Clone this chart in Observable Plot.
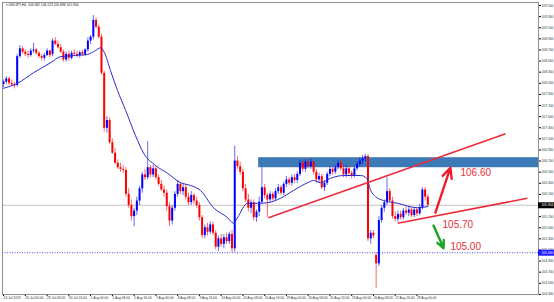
<!DOCTYPE html>
<html><head><meta charset="utf-8">
<script src="https://cdn.jsdelivr.net/npm/d3@7"></script>
<script src="https://cdn.jsdelivr.net/npm/@observablehq/plot@0.6"></script>
<style>html,body{margin:0;padding:0;background:#fff;} #chart svg{display:block;}</style>
</head><body><div id="chart"></div>
<script>
// ---- data ----
const opens = [108.08,108.12,108.18,108.10,108.07,108.06,108.58,108.72,108.66,108.62,108.60,108.68,108.70,108.64,108.58,108.55,108.60,108.68,108.62,108.86,108.80,108.74,108.66,108.52,108.62,108.55,108.64,108.62,108.60,108.65,108.62,108.70,108.86,108.93,109.23,109.11,108.93,108.28,107.29,107.43,107.03,106.84,106.66,106.58,106.55,106.53,106.10,105.90,105.70,105.80,105.98,106.20,106.45,106.40,106.58,106.45,106.56,106.40,106.28,106.18,106.12,105.88,105.62,105.85,106.10,106.28,106.15,106.22,106.05,105.95,106.08,105.98,105.90,105.68,105.36,105.50,105.42,105.55,105.40,105.15,105.30,105.20,105.32,105.25,105.38,105.12,106.70,106.60,106.50,106.20,106.00,105.85,105.95,105.68,105.78,105.96,106.22,106.08,106.00,106.10,106.02,106.15,106.22,106.12,106.28,106.36,106.30,106.40,106.35,106.46,106.66,106.55,106.68,106.60,106.68,106.50,106.36,106.42,106.22,106.30,106.46,106.55,106.50,106.58,106.66,106.56,106.45,106.56,106.48,106.44,106.56,106.64,106.70,106.74,106.78,105.30,105.40,105.00,104.85,105.63,105.85,105.95,106.15,105.98,105.70,105.65,105.74,105.68,105.80,105.76,105.82,105.72,105.82,105.75,105.86,106.18,106.05];
const highs = [108.16,108.22,108.21,108.16,108.12,108.62,108.78,108.76,108.70,108.68,108.72,108.82,108.73,108.67,108.62,108.64,108.72,108.70,108.90,108.92,108.86,108.80,108.70,108.66,108.68,108.68,108.70,108.68,108.68,108.70,108.72,108.92,108.96,109.32,109.28,109.15,108.98,108.32,107.50,107.48,107.10,106.92,106.72,106.66,106.62,106.58,106.20,106.00,105.85,106.05,106.25,106.50,106.55,107.05,106.62,106.62,106.60,106.45,106.35,106.25,106.18,105.95,105.90,106.15,106.35,106.32,106.30,106.28,106.12,106.15,106.12,106.05,105.95,105.72,105.55,105.58,105.60,105.60,105.45,105.35,105.38,105.38,105.40,105.42,105.45,106.97,106.78,106.68,106.55,106.28,106.10,106.00,106.00,105.82,106.05,106.58,106.28,106.12,106.15,106.14,106.20,106.28,106.26,106.32,106.42,106.40,106.45,106.46,106.50,106.72,106.72,106.72,106.74,106.74,106.70,106.55,106.48,106.46,106.35,106.50,106.60,106.60,106.62,106.70,106.72,106.62,106.62,106.60,106.52,106.60,106.68,106.76,106.80,106.82,106.82,105.45,105.45,105.05,105.70,105.90,106.00,106.40,106.20,106.05,105.78,105.80,105.80,105.85,105.88,105.88,105.86,105.86,105.85,105.92,106.22,106.22,106.10];
const lows = [108.02,108.08,108.06,108.04,108.00,108.03,108.55,108.62,108.58,108.55,108.57,108.64,108.60,108.55,108.50,108.50,108.58,108.56,108.58,108.78,108.72,108.64,108.48,108.48,108.50,108.52,108.58,108.56,108.55,108.58,108.58,108.66,108.80,108.88,109.08,108.90,108.25,107.22,107.20,107.00,106.82,106.64,106.55,106.50,106.48,106.05,105.85,105.62,105.52,105.72,105.90,106.12,106.35,106.36,106.40,106.40,106.36,106.25,106.15,106.05,105.80,105.52,105.55,105.80,106.05,106.10,106.08,106.00,105.90,105.90,105.92,105.85,105.62,105.30,105.30,105.35,105.38,105.36,105.10,105.07,105.15,105.12,105.20,105.20,105.05,105.06,106.55,106.45,106.15,105.95,105.78,105.75,105.62,105.60,105.70,105.92,106.02,105.68,105.95,105.98,105.98,106.10,106.08,106.08,106.22,106.25,106.25,106.30,106.30,106.42,106.50,106.50,106.56,106.55,106.45,106.30,106.30,106.18,106.15,106.26,106.42,106.44,106.46,106.54,106.52,106.40,106.40,106.42,106.38,106.40,106.52,106.60,106.64,106.68,105.25,105.20,105.30,104.41,104.80,105.58,105.78,105.90,105.96,105.65,105.60,105.60,105.64,105.64,105.72,105.70,105.68,105.68,105.70,105.72,105.82,105.98,105.88];
const closes = [108.12,108.18,108.10,108.07,108.05,108.58,108.72,108.66,108.62,108.60,108.68,108.70,108.64,108.58,108.55,108.60,108.68,108.60,108.86,108.80,108.74,108.66,108.52,108.62,108.55,108.64,108.62,108.60,108.65,108.62,108.70,108.86,108.93,109.23,109.11,108.93,108.28,107.29,107.43,107.03,106.84,106.66,106.58,106.55,106.53,106.10,105.90,105.70,105.80,105.98,106.20,106.45,106.40,106.58,106.45,106.56,106.40,106.28,106.18,106.12,105.88,105.62,105.85,106.10,106.28,106.15,106.22,106.05,105.95,106.08,105.98,105.90,105.68,105.36,105.50,105.42,105.55,105.40,105.15,105.30,105.20,105.32,105.25,105.38,105.12,106.70,106.60,106.50,106.20,106.00,105.85,105.95,105.68,105.78,105.96,106.22,106.08,106.00,106.10,106.02,106.15,106.22,106.12,106.28,106.36,106.30,106.40,106.35,106.46,106.66,106.55,106.68,106.60,106.68,106.50,106.36,106.42,106.22,106.30,106.46,106.55,106.50,106.58,106.66,106.56,106.45,106.56,106.48,106.44,106.56,106.64,106.70,106.74,106.78,105.30,105.40,105.35,104.85,105.63,105.85,105.95,106.15,105.98,105.70,105.65,105.74,105.68,105.80,105.76,105.82,105.72,105.82,105.75,105.86,106.18,106.05,105.904];

// moving average line, read at sample bars
const maBars   = [0, 5.1, 11, 17.3, 21, 26.5, 30.9, 33.8, 35.7, 37.1, 39.3, 41.9, 44.9, 48.5, 51.5, 55.9, 60.3, 65.1, 68.8, 72.4, 77.2, 82.4, 84.6, 86, 89.7, 93.4, 97.1, 101.8, 106.6, 111.8, 114, 116.5, 120.2, 125, 131.3, 133.5, 135, 136.8, 139.7, 144.9, 152.2, 156];
const maValues = [108.01, 108.10, 108.29, 108.47, 108.58, 108.60, 108.62, 108.69, 108.74, 108.65, 108.33, 107.97, 107.61, 107.16, 106.84, 106.62, 106.48, 106.31, 106.26, 106.17, 105.86, 105.68, 105.58, 105.68, 105.94, 105.94, 105.95, 106.03, 106.17, 106.31, 106.35, 106.31, 106.39, 106.44, 106.44, 106.39, 106.17, 106.06, 105.99, 105.94, 105.86, 105.88];

const priceTicks = [109.5,109.3,109.1,108.9,108.7,108.5,108.3,108.1,107.9,107.7,107.5,107.3,107.1,106.9,106.7,106.5,106.3,106.1,105.9,105.7,105.5,105.3,105.1,104.9,104.7,104.5,104.3];
const timeTickBars = [0,8,16,24,32,40,48,56,64,72,80,88,96,104,112,120,128,136,144,152];
const timeTickLabels = ["24 Jul 2019","26 Jul 00:00","29 Jul 08:00","30 Jul 16:00","1 Aug 00:00","2 Aug 08:00","5 Aug 16:00","7 Aug 00:00","8 Aug 08:00","9 Aug 16:00","13 Aug 00:00","14 Aug 08:00","15 Aug 16:00","19 Aug 00:00","20 Aug 08:00","21 Aug 16:00","23 Aug 00:00","26 Aug 08:00","27 Aug 16:00","29 Aug 00:00"];

const titleText = "\u25BE USDJPY,H4  106.082 106.123 105.888 105.904";
const lastPrice = 105.904;
const levelPrice = 105.05;

// analyst drawings (bar index / price)
const zoneBars = [93.8, 196.7];
const zonePrices = [106.58, 106.76];
const trendFrom = [[97.4, 105.68], [144.9, 105.58]];
const trendTo   = [[184.6, 107.19], [192.6, 106.03]];
const arrowUp   = [[158.8, 105.77], [164.3, 106.58]];
const arrowDown = [[158.1, 105.54], [161.8, 105.13]];
const noteTexts = ["106.60", "105.70", "105.00"];
const noteBars  = [168, 161.4, 164.3];
const notePrices = [106.49, 105.56, 105.16];

// ---- build ----
const bars = opens.map((o, i) => ({i, open: o, high: highs[i], low: lows[i], close: closes[i]}));
const bull = bars.filter(d => d.close >= d.open);
const bear = bars.filter(d => d.close < d.open);
const ma = maBars.map((b, k) => ({b, v: maValues[k]}));
const trends = trendFrom.map((a, k) => ({x1: a[0], y1: a[1], x2: trendTo[k][0], y2: trendTo[k][1]}));
const arrows = [
  {x1: arrowUp[0][0], y1: arrowUp[0][1], x2: arrowUp[1][0], y2: arrowUp[1][1], c: "#ee1f2d"},
  {x1: arrowDown[0][0], y1: arrowDown[0][1], x2: arrowDown[1][0], y2: arrowDown[1][1], c: "#1fa326"}
];
const notes = noteTexts.map((t, k) => ({t, x: noteBars[k], y: notePrices[k]}));

const BLUE = "#0000ff", RED = "#ff0000";
const xMax = 196.7;
const font = "Liberation Sans, Arial, sans-serif";

const chart = Plot.plot({
  width: 554, height: 302,
  marginTop: 2, marginRight: 16, marginBottom: 8, marginLeft: 2,
  style: {fontFamily: font, background: "#fff"},
  x: {domain: [-0.4, xMax], axis: null},
  y: {domain: [104.298, 109.554], axis: null},
  marks: [
    Plot.rect([0], {x1: zoneBars[0], x2: zoneBars[1], y1: zonePrices[0], y2: zonePrices[1], fill: "#3b7ab7"}),
    Plot.ruleY([lastPrice], {stroke: "#c4c4c4", strokeWidth: 1}),
    Plot.ruleY([levelPrice], {stroke: "#4a4aff", strokeWidth: 1, strokeDasharray: "1,1.5"}),
    Plot.ruleX(bull, {x: "i", y1: "low", y2: "high", stroke: BLUE, strokeWidth: 0.8, strokeOpacity: 0.75}),
    Plot.ruleX(bear, {x: "i", y1: "low", y2: "high", stroke: RED, strokeWidth: 0.8, strokeOpacity: 0.75}),
    Plot.ruleX(bull, {x: "i", y1: "open", y2: "close", stroke: BLUE, strokeWidth: 2}),
    Plot.ruleX(bear, {x: "i", y1: "open", y2: "close", stroke: RED, strokeWidth: 2}),
    Plot.line(ma, {x: "b", y: "v", stroke: "#2b2bd0", strokeWidth: 1, curve: "monotone-x"}),
    Plot.link(trends, {x1: "x1", y1: "y1", x2: "x2", y2: "y2", stroke: "#ee2a3a", strokeWidth: 1.6}),
    Plot.arrow(arrows, {x1: "x1", y1: "y1", x2: "x2", y2: "y2", stroke: "c", strokeWidth: 2.4, headLength: 7, headAngle: 50}),
    Plot.text(notes, {x: "x", y: "y", text: "t", fill: "#e8313c", fontSize: 10, textAnchor: "start"}),
    Plot.axisY({anchor: "right", ticks: priceTicks, tickFormat: d => d.toFixed(3), tickSize: 2, tickPadding: 1, fontSize: 3.3, fill: "#333"}),
    Plot.axisX({anchor: "bottom", ticks: timeTickBars, tickFormat: d => timeTickLabels[timeTickBars.indexOf(d)], textAnchor: "start", tickSize: 2, tickPadding: 0.5, fontSize: 3.3, fill: "#333"}),
    Plot.frame({stroke: "#777", strokeWidth: 0.8}),
    Plot.ruleY([lastPrice], {x1: xMax, x2: xMax + 6, stroke: "#000", strokeWidth: 6}),
    Plot.text([lastPrice], {x: xMax, y: d => d, text: d => d.toFixed(3), dx: 3, textAnchor: "start", fill: "#fff", fontSize: 3.3}),
    Plot.ruleY([levelPrice], {x1: xMax, x2: xMax + 6, stroke: "#1c1cff", strokeWidth: 6}),
    Plot.text([levelPrice], {x: xMax, y: d => d, text: d => d.toFixed(3), dx: 3, textAnchor: "start", fill: "#fff", fontSize: 3.3}),
    Plot.text([titleText], {frameAnchor: "top-left", dx: 3, dy: 1.5, text: d => d, fontSize: 3.3, fill: "#222"})
  ]
});
document.getElementById("chart").appendChild(chart);
</script>
</body></html>
